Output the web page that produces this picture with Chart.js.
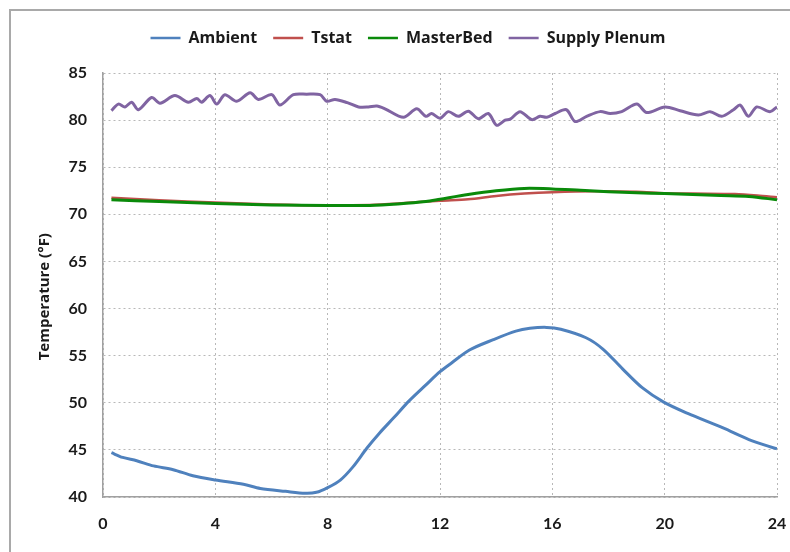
<!DOCTYPE html>
<html>
<head>
<meta charset="utf-8">
<script src="https://cdn.jsdelivr.net/npm/chart.js@4.4.1/dist/chart.umd.min.js"></script>
<style>
  html, body { margin: 0; padding: 0; background: #ffffff; }
  #wrap { position: relative; width: 790px; height: 552px; overflow: hidden; }
  #frame { position: absolute; left: 9px; top: 9px; width: 820px; height: 580px; border: 2px solid #a9a9a9; box-sizing: border-box; }
  #c { position: absolute; left: 0; top: 0; }
</style>
</head>
<body>
<div id="wrap">
  <div id="frame"></div>
  <canvas id="c" width="790" height="552"></canvas>
</div>
<script>
// ---- Data (hours of day, temperature in °F) ----
const seriesNames = ["Ambient", "Tstat", "MasterBed", "Supply Plenum"];

const ambientHours = [0.3,0.7,1.2,1.8,2.5,3.2,4.0,5.0,5.6,6.5,7.2,7.6,8.0,8.45,8.9,9.4,9.85,10.35,10.9,11.5,12.0,12.4,13.05,13.9,14.7,15.2,15.8,16.3,17.2,17.8,18.5,19.2,19.95,20.8,22.1,23.0,24.0];
const ambientTemps = [44.7,44.2,43.85,43.3,42.9,42.25,41.8,41.35,40.9,40.6,40.4,40.5,41.0,41.8,43.2,45.2,46.8,48.4,50.2,51.9,53.3,54.2,55.6,56.7,57.6,57.9,58.0,57.8,56.9,55.7,53.6,51.6,50.1,48.9,47.3,46.1,45.1];

const tstatHours = [0.3,2,4,6,8,9.5,10.5,12,13,14,15,16,17.5,19,20,21,22.5,23.3,24];
const tstatTemps = [71.75,71.5,71.25,71.05,70.95,71.0,71.15,71.45,71.6,71.95,72.2,72.35,72.45,72.4,72.25,72.2,72.15,72.0,71.8];

const masterHours = [0.3,2,4,6,8,9.5,10.5,11.5,12,13,14,15,16,17,18,19,20,21,22,23,24];
const masterTemps = [71.55,71.35,71.15,71.0,70.95,70.95,71.1,71.35,71.6,72.1,72.5,72.75,72.7,72.55,72.4,72.3,72.2,72.1,72.0,71.9,71.55];

const plenumHours = [0.3,0.55,0.78,1.02,1.26,1.73,2.03,2.56,3.04,3.34,3.51,3.81,4.05,4.34,4.76,5.24,5.53,6.01,6.3,6.78,7.25,7.73,7.97,8.26,8.7,9.1,9.45,9.75,10.04,10.7,11.17,11.5,11.7,12.0,12.3,12.65,13.01,13.37,13.72,14.02,14.32,14.5,14.85,15.27,15.56,15.8,16.1,16.5,16.81,17.22,17.7,18.06,18.47,19.01,19.36,20.01,20.55,21.2,21.62,22.03,22.45,22.69,22.98,23.28,23.75,24.0];
const plenumTemps = [81.0,81.7,81.4,81.9,81.1,82.4,81.8,82.6,81.9,82.3,81.9,82.6,81.7,82.7,82.0,82.9,82.2,82.7,81.6,82.7,82.75,82.7,82.0,82.2,81.85,81.4,81.4,81.5,81.2,80.3,81.2,80.4,80.7,80.2,80.9,80.4,80.95,80.15,80.7,79.45,80.0,80.1,80.9,80.05,80.4,80.3,80.7,81.1,79.85,80.4,80.9,80.7,80.9,81.7,80.8,81.4,81.0,80.55,80.9,80.4,81.1,81.6,80.4,81.4,80.9,81.4];

const xTicks = [0, 4, 8, 12, 16, 20, 24];
const yTicks = [40, 45, 50, 55, 60, 65, 70, 75, 80, 85];
const yTitle = "Temperature (°F)";

function pts(xs, ys) { return xs.map((x, i) => ({ x: x, y: ys[i] })); }

const colors = ["#4f81bd", "#c0504d", "#0a8a0a", "#8064a2"];
const widths = [3, 2.5, 3, 3];
const orders = [1, 3, 2, 4];
const dataSets = [pts(ambientHours, ambientTemps), pts(tstatHours, tstatTemps), pts(masterHours, masterTemps), pts(plenumHours, plenumTemps)];

const TICKFONT = "Lato, 'Open Sans', 'DejaVu Sans', sans-serif";
const TEXTFONT = "'Open Sans', Lato, 'DejaVu Sans', sans-serif";

const legendGap = {
  id: 'legendGap',
  beforeInit(chart) {
    const fit = chart.legend.fit;
    chart.legend.fit = function () { fit.call(this); this.height += 17; };
  }
};

new Chart(document.getElementById('c'), {
  type: 'line',
  plugins: [legendGap],
  data: {
    datasets: seriesNames.map((n, i) => ({
      label: n,
      data: dataSets[i],
      borderColor: colors[i],
      backgroundColor: colors[i],
      borderWidth: widths[i],
      pointRadius: 0,
      tension: 0.3,
      fill: false,
      order: orders[i]
    }))
  },
  options: {
    responsive: false,
    animation: false,
    devicePixelRatio: 1,
    layout: { padding: { left: 26, right: 0, top: 14, bottom: 0 } },
    plugins: {
      tooltip: { enabled: false },
      legend: {
        position: 'top',
        align: 'center',
        labels: {
          usePointStyle: true,
          pointStyle: 'line',
          pointStyleWidth: 30,
          boxHeight: 14,
          padding: 16,
          color: '#1a1a1a',
          font: { family: TEXTFONT, size: 16, weight: 'bold' },
          sort: (a, b) => a.datasetIndex - b.datasetIndex,
          generateLabels: (chart) => Chart.defaults.plugins.legend.labels.generateLabels(chart).map(l => Object.assign(l, { lineWidth: 2.5 }))
        }
      }
    },
    scales: {
      x: {
        type: 'linear',
        min: 0, max: 24,
        afterBuildTicks: (s) => { s.ticks = xTicks.map(v => ({ value: v })); },
        afterFit: (s) => { s.height = 55; s.paddingRight = 13; s.paddingLeft = 0; },
        ticks: { color: '#1a1a1a', font: { family: TICKFONT, size: 16, weight: 'bold' }, padding: 17, maxRotation: 0 },
        grid: { color: '#b8b8b8', lineWidth: 1, drawTicks: false },
        border: { display: true, color: '#a0a0a0', width: 1.5, dash: [2, 3] }
      },
      y: {
        type: 'linear',
        min: 40, max: 85,
        afterBuildTicks: (s) => { s.ticks = yTicks.map(v => ({ value: v })); },
        afterFit: (s) => { s.width = 77; },
        ticks: { color: '#1a1a1a', font: { family: TICKFONT, size: 16, weight: 'bold' }, padding: 16 },
        grid: { color: '#b8b8b8', lineWidth: 1, drawTicks: false },
        border: { display: true, color: '#a0a0a0', width: 1.5, dash: [2, 3] },
        title: {
          display: true,
          text: yTitle + "\u00a0\u00a0\u00a0\u00a0\u00a0\u00a0",
          color: '#1a1a1a',
          font: { family: TEXTFONT, size: 15, weight: 'bold' },
          padding: { top: 10, bottom: 0 }
        }
      }
    }
  }
});
</script>
</body>
</html>
